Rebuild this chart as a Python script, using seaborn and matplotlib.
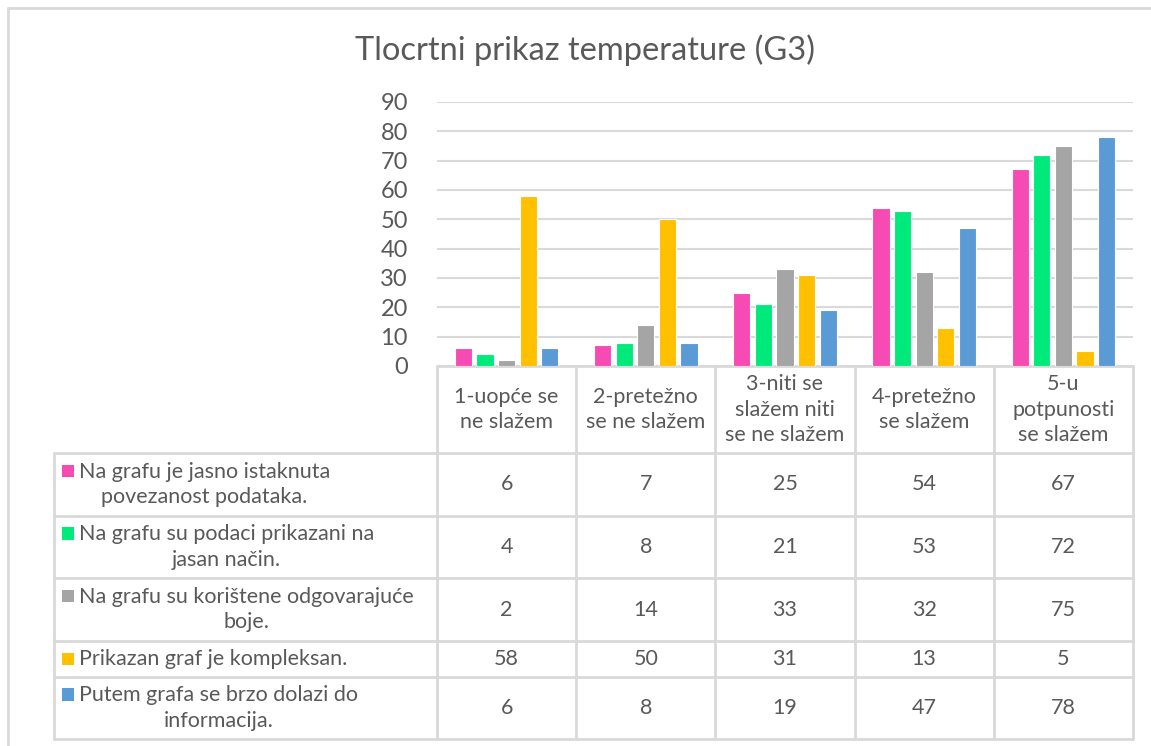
import matplotlib
matplotlib.use("Agg")
import matplotlib.pyplot as plt
from matplotlib.patches import Rectangle
import seaborn as sns
import pandas as pd

# ---------------- data ----------------
title = "Tlocrtni prikaz temperature (G3)"
categories = [
    "1-uopće se\nne slažem",
    "2-pretežno\nse ne slažem",
    "3-niti se\nslažem niti\nse ne slažem",
    "4-pretežno\nse slažem",
    "5-u\npotpunosti\nse slažem",
]
series_labels = [
    "Na grafu je jasno istaknuta\npovezanost podataka.",
    "Na grafu su podaci prikazani na\njasan način.",
    "Na grafu su korištene odgovarajuće\nboje.",
    "Prikazan graf je kompleksan.",
    "Putem grafa se brzo dolazi do\ninformacija.",
]
povezanost = [6, 7, 25, 54, 67]
jasan_nacin = [4, 8, 21, 53, 72]
boje = [2, 14, 33, 32, 75]
kompleksan = [58, 50, 31, 13, 5]
brzo = [6, 8, 19, 47, 78]
values = [povezanost, jasan_nacin, boje, kompleksan, brzo]
colors = ["#F74BB4", "#00EA7C", "#A5A5A5", "#FFC000", "#5B9BD5"]
yticks = list(range(0, 91, 10))

# ---------------- styling ----------------
sns.set_theme(style="white")
plt.rcParams["font.family"] = ["Lato", "DejaVu Sans"]
TXT = "#595959"
LINE = "#D9D9D9"

rows = []
for s_lab, vals in zip(series_labels, values):
    for c, v in zip(categories, vals):
        rows.append({"cat": c, "val": v, "series": s_lab})
df = pd.DataFrame(rows)

W, H = 1151, 746
fig = plt.figure(figsize=(W / 100, H / 100), dpi=100)
fig.patch.set_facecolor("white")

# plot area geometry (pixels)
X0, X1 = 437, 1133
Y0, Y1 = 366, 102
ax = fig.add_axes([X0 / W, (H - Y0) / H, (X1 - X0) / W, (Y0 - Y1) / H])
ax.set_facecolor("none")

sns.barplot(
    data=df, x="cat", y="val", hue="series", order=categories,
    hue_order=series_labels, palette=colors, width=0.775, gap=0.2,
    edgecolor="white", linewidth=0.8, errorbar=None, legend=False,
    saturation=1, ax=ax,
)
ax.set_xlim(-0.5, len(categories) - 0.5)
ax.set_ylim(0, 90)
ax.set_yticks(yticks)
ax.set_yticklabels([str(t) for t in yticks], color=TXT, fontsize=17)
ax.tick_params(axis="y", length=0, pad=21)
ax.set_xticks([])
ax.set_xlabel("")
ax.set_ylabel("")
ax.yaxis.grid(True, color=LINE, linewidth=1.5)
ax.set_axisbelow(True)
for sp in ax.spines.values():
    sp.set_visible(False)

# ---------------- overlay for table, border, title ----------------
tax = fig.add_axes([0, 0, 1, 1], zorder=-1)
tax.set_xlim(0, W)
tax.set_ylim(H, 0)
tax.axis("off")

# outer chart border
tax.plot([8, 8], [H, 8], color=LINE, lw=2)
tax.plot([8, W], [8, 8], color=LINE, lw=2)

tax.text(585, 50, title, ha="center", va="center", fontsize=23.5, color=TXT)

ncat = len(categories)
cw = (X1 - X0) / ncat
col_edges = [X0 + i * cw for i in range(ncat + 1)]
row_edges = [366, 453, 516, 578, 641, 677, 739]
TL = 54

tl = 2.0
tax.plot([X0, X1], [row_edges[0], row_edges[0]], color=LINE, lw=tl)
for y in row_edges[1:]:
    tax.plot([TL, X1], [y, y], color=LINE, lw=tl)
tax.plot([TL, TL], [row_edges[1], row_edges[-1]], color=LINE, lw=tl)
for x in col_edges:
    tax.plot([x, x], [row_edges[0], row_edges[-1]], color=LINE, lw=tl)

FS = 15.5
LS = 1.32
# header
for i, c in enumerate(categories):
    cx = (col_edges[i] + col_edges[i + 1]) / 2
    tax.text(cx, (row_edges[0] + row_edges[1]) / 2, c, ha="center", va="center",
             multialignment="center", fontsize=FS, color=TXT, linespacing=LS)

# rows
LGAP = 27
for r, (s_lab, vals, col) in enumerate(zip(series_labels, values, colors)):
    yc = (row_edges[r + 1] + row_edges[r + 2]) / 2
    nlines = s_lab.count("\n") + 1
    sq_y = yc - (nlines - 1) * LGAP / 2
    tax.add_patch(Rectangle((62, sq_y - 6.5), 12.5, 12.5, color=col, lw=0))
    tax.text(79, yc, s_lab, ha="left", va="center", multialignment="center",
             fontsize=FS, color=TXT, linespacing=LS)
    for i, v in enumerate(vals):
        cx = (col_edges[i] + col_edges[i + 1]) / 2
        tax.text(cx, yc, str(v), ha="center", va="center", fontsize=FS, color=TXT)

fig.savefig("out.png", dpi=100, facecolor="white")
